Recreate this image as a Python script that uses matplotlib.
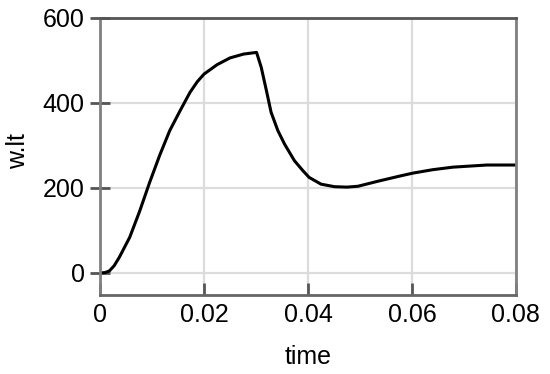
import matplotlib
matplotlib.use('Agg')
from matplotlib import pyplot as plt

plt.rcParams['font.family'] = ['Liberation Sans', 'DejaVu Sans']

# values
time = [0.0, 0.001, 0.0018, 0.0027, 0.0037, 0.0057, 0.0076, 0.0095, 0.0115, 0.0134,
        0.0154, 0.0173, 0.0187, 0.02, 0.0225, 0.025, 0.0276, 0.0301,
        0.031, 0.032, 0.0329, 0.0342, 0.0355, 0.0374, 0.039, 0.0402, 0.0425,
        0.0451, 0.0475, 0.0496, 0.0535, 0.058, 0.0602, 0.064, 0.0679, 0.0744, 0.08]
wlt = [0, 1, 5, 17, 37, 84, 145, 212, 278, 335,
       382, 425, 450, 468, 490, 506, 515, 519,
       484, 429, 378, 335, 303, 264, 241, 225, 209,
       203, 202, 204, 216, 229, 235, 243, 249, 254, 254]

xticks = [0, 0.02, 0.04, 0.06, 0.08]
xtick_labels = ['0', '0.02', '0.04', '0.06', '0.08']
yticks = [0, 200, 400, 600]

fig = plt.figure(figsize=(5.5, 3.74), dpi=100)
ax = fig.add_axes([0.182, 0.211, 0.756, 0.741])

ax.plot(time, wlt, color='black', lw=2.2, solid_joinstyle='round')

ax.set_xlim(0, 0.08)
ax.set_ylim(-52, 600)
ax.set_xticks(xticks)
ax.set_xticklabels(xtick_labels)
ax.set_yticks(yticks)
ax.grid(True, color='#dcdcdc', lw=1.6)
ax.set_axisbelow(True)

for s in ['left', 'right', 'bottom']:
    ax.spines[s].set_color('#808080')
    ax.spines[s].set_linewidth(2)
ax.spines['bottom'].set_color('#666666')
ax.spines['top'].set_color('#555555')
ax.spines['top'].set_linewidth(2)

ax.tick_params(axis='y', direction='inout', length=14, width=2, color='#555555',
               labelsize=18, pad=4)
ax.tick_params(axis='x', direction='in', length=9, width=2, color='#555555',
               labelsize=18, pad=6)

ax.set_xlabel('time', fontsize=18)
ax.set_ylabel('w.lt', fontsize=18)
ax.xaxis.set_label_coords(0.5, -0.18)
ax.yaxis.set_label_coords(-0.168, 0.52)

fig.savefig('out.png', dpi=100)
